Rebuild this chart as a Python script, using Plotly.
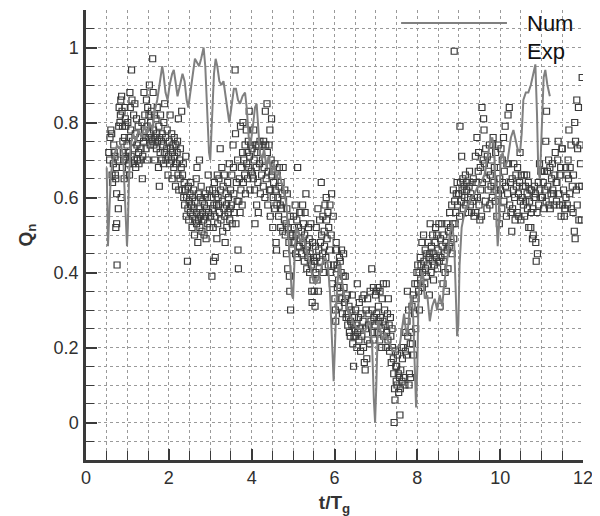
import plotly.graph_objects as go

# ---- Numerical result (Num) ----
num_t = [0.50, 0.51, 0.53, 0.56, 0.60, 0.65, 0.70, 0.75, 0.80, 0.85, 0.90, 0.94, 0.97, 0.99,
         1.01, 1.04, 1.08, 1.14, 1.20, 1.27, 1.34, 1.40, 1.47, 1.54, 1.60, 1.66, 1.72, 1.78,
         1.84, 1.87, 1.92, 1.97, 2.02, 2.08, 2.12, 2.16, 2.21, 2.27, 2.33, 2.38, 2.43, 2.47,
         2.52, 2.58, 2.63, 2.68, 2.73, 2.78, 2.84, 2.88, 2.93, 2.97, 3.00, 3.04, 3.09, 3.13,
         3.17, 3.22, 3.27, 3.32, 3.36, 3.41, 3.46, 3.51, 3.57, 3.62, 3.67, 3.72, 3.78, 3.84,
         3.88, 3.93, 3.97, 4.02, 4.08, 4.12, 4.16, 4.20, 4.25, 4.30, 4.36, 4.42, 4.48, 4.54,
         4.60, 4.66, 4.72, 4.78, 4.84, 4.89, 4.94, 4.97, 5.00, 5.03, 5.07, 5.12, 5.18, 5.24,
         5.30, 5.36, 5.42, 5.48, 5.54, 5.60, 5.66, 5.72, 5.78, 5.84, 5.89, 5.93, 5.96, 5.98,
         6.01, 6.06, 6.12, 6.18, 6.25, 6.32, 6.40, 6.48, 6.56, 6.64, 6.72, 6.80, 6.86, 6.91,
         6.95, 6.98, 7.01, 7.05, 7.10, 7.16, 7.22, 7.28, 7.34, 7.40, 7.46, 7.52, 7.58, 7.63,
         7.68, 7.72, 7.76, 7.81, 7.86, 7.90, 7.94, 7.97, 8.00, 8.03, 8.08, 8.13, 8.18, 8.24,
         8.30, 8.36, 8.42, 8.48, 8.54, 8.60, 8.66, 8.72, 8.78, 8.84, 8.89, 8.93, 8.96, 8.99,
         9.02, 9.07, 9.14, 9.22, 9.30, 9.38, 9.46, 9.54, 9.62, 9.70, 9.76, 9.81, 9.86, 9.91,
         9.94, 9.97, 10.01, 10.06, 10.12, 10.18, 10.26, 10.32, 10.37, 10.42, 10.48, 10.52,
         10.56, 10.62, 10.68, 10.74, 10.80, 10.85, 10.89, 10.92, 10.96, 11.00, 11.05, 11.09,
         11.14, 11.20]
num_q = [0.68, 0.58, 0.47, 0.55, 0.66, 0.70, 0.72, 0.74, 0.73, 0.74, 0.70, 0.60, 0.49, 0.47,
         0.52, 0.66, 0.74, 0.77, 0.75, 0.78, 0.76, 0.79, 0.77, 0.80, 0.78, 0.83, 0.86, 0.90,
         0.95, 0.93, 0.88, 0.86, 0.90, 0.93, 0.94, 0.91, 0.87, 0.90, 0.93, 0.91, 0.86, 0.84,
         0.88, 0.94, 0.97, 0.96, 0.95, 0.97, 1.00, 0.95, 0.82, 0.72, 0.70, 0.82, 0.93, 0.97,
         0.95, 0.91, 0.90, 0.91, 0.88, 0.83, 0.80, 0.84, 0.89, 0.89, 0.86, 0.85, 0.87, 0.88,
         0.84, 0.76, 0.74, 0.78, 0.84, 0.85, 0.78, 0.72, 0.70, 0.73, 0.68, 0.71, 0.66, 0.69,
         0.65, 0.67, 0.64, 0.62, 0.58, 0.50, 0.40, 0.34, 0.33, 0.42, 0.52, 0.51, 0.48, 0.50,
         0.47, 0.44, 0.42, 0.38, 0.37, 0.38, 0.40, 0.43, 0.44, 0.42, 0.35, 0.22, 0.12, 0.11,
         0.20, 0.36, 0.42, 0.38, 0.33, 0.30, 0.28, 0.26, 0.25, 0.25, 0.24, 0.26, 0.27, 0.20,
         0.06, 0.00, 0.10, 0.27, 0.25, 0.22, 0.24, 0.22, 0.21, 0.19, 0.19, 0.20, 0.21, 0.25,
         0.29, 0.25, 0.23, 0.30, 0.34, 0.28, 0.10, 0.04, 0.15, 0.34, 0.38, 0.40, 0.33, 0.34,
         0.27, 0.31, 0.33, 0.30, 0.34, 0.31, 0.38, 0.43, 0.50, 0.53, 0.48, 0.32, 0.23, 0.26,
         0.42, 0.52, 0.56, 0.58, 0.60, 0.61, 0.63, 0.64, 0.66, 0.71, 0.75, 0.76, 0.72, 0.55,
         0.47, 0.52, 0.70, 0.72, 0.68, 0.70, 0.76, 0.78, 0.75, 0.73, 0.72, 0.77,
         0.86, 0.88, 0.88, 0.90, 0.93, 0.955, 0.82, 0.67, 0.65, 0.78, 0.92, 0.94,
         0.90, 0.87]

exp_a = [  # t 0.5 - 3
    (0.55, 0.72), (0.57, 0.70), (0.58, 0.76), (0.60, 0.78), (0.62, 0.77), (0.63, 0.66), (0.64, 0.64),
    (0.66, 0.69), (0.67, 0.74), (0.68, 0.72), (0.70, 0.71), (0.71, 0.66), (0.72, 0.65), (0.73, 0.68),
    (0.74, 0.61), (0.75, 0.42), (0.72, 0.52), (0.74, 0.53), (0.78, 0.57), (0.77, 0.70), (0.79, 0.79),
    (0.80, 0.84), (0.82, 0.80), (0.83, 0.82), (0.84, 0.86), (0.86, 0.87), (0.87, 0.83), (0.88, 0.79),
    (0.89, 0.75), (0.90, 0.72), (0.91, 0.70), (0.93, 0.76), (0.94, 0.84), (0.95, 0.81), (0.96, 0.79),
    (0.97, 0.70), (0.98, 0.66), (0.99, 0.74), (0.85, 0.60), (0.88, 0.68), (0.92, 0.65), (0.96, 0.71),
    (1.01, 0.80), (1.02, 0.72), (1.03, 0.69), (1.04, 0.76), (1.05, 0.66), (1.06, 0.88), (1.07, 0.84),
    (1.08, 0.78), (1.09, 0.71), (1.10, 0.94), (1.11, 0.86), (1.12, 0.75), (1.13, 0.69), (1.15, 0.82),
    (1.16, 0.73), (1.17, 0.70), (1.18, 0.85), (1.19, 0.77), (1.20, 0.68), (1.22, 0.81), (1.23, 0.74),
    (1.24, 0.70), (1.26, 0.79), (1.27, 0.72), (1.28, 0.69), (1.30, 0.76), (1.31, 0.70), (1.33, 0.73),
    (1.35, 0.80), (1.36, 0.65), (1.37, 0.71), (1.39, 0.75), (1.40, 0.88), (1.41, 0.78), (1.42, 0.82),
    (1.44, 0.76), (1.45, 0.73), (1.46, 0.86), (1.47, 0.79), (1.48, 0.70), (1.49, 0.84),
    (1.50, 0.76), (1.52, 0.82), (1.53, 0.90), (1.54, 0.77), (1.55, 0.74), (1.56, 0.80), (1.57, 0.76),
    (1.58, 0.83), (1.60, 0.75), (1.61, 0.97), (1.62, 0.88), (1.63, 0.78), (1.64, 0.74), (1.65, 0.82),
    (1.66, 0.70), (1.67, 0.76), (1.69, 0.81), (1.70, 0.73), (1.71, 0.77), (1.72, 0.84), (1.73, 0.75),
    (1.75, 0.68), (1.76, 0.79), (1.77, 0.63), (1.78, 0.76), (1.79, 0.72), (1.80, 0.82), (1.82, 0.75),
    (1.83, 0.70), (1.84, 0.77), (1.86, 0.74), (1.87, 0.69), (1.88, 0.80), (1.89, 0.72), (1.90, 0.85),
    (1.92, 0.76), (1.93, 0.70), (1.95, 0.73), (1.96, 0.78), (1.98, 0.66), (1.99, 0.71),
    (2.01, 0.75), (2.02, 0.69), (2.03, 0.82), (2.04, 0.73), (2.06, 0.70), (2.07, 0.77), (2.08, 0.65),
    (2.09, 0.72), (2.10, 0.74), (2.12, 0.68), (2.13, 0.76), (2.14, 0.71), (2.16, 0.63), (2.17, 0.74),
    (2.18, 0.69), (2.20, 0.72), (2.21, 0.75), (2.22, 0.66), (2.23, 0.81), (2.24, 0.62), (2.26, 0.70),
    (2.27, 0.65), (2.28, 0.73), (2.30, 0.68), (2.31, 0.83), (2.32, 0.62), (2.33, 0.66), (2.35, 0.69),
    (2.36, 0.60), (2.37, 0.64), (2.38, 0.58), (2.40, 0.62), (2.41, 0.71), (2.42, 0.55), (2.43, 0.60),
    (2.45, 0.43), (2.46, 0.57), (2.47, 0.63), (2.48, 0.54), (2.49, 0.59),
    (2.51, 0.61), (2.52, 0.56), (2.53, 0.64), (2.55, 0.58), (2.56, 0.52), (2.57, 0.60), (2.58, 0.55),
    (2.60, 0.62), (2.61, 0.57), (2.62, 0.50), (2.63, 0.59), (2.65, 0.54), (2.66, 0.65), (2.67, 0.53),
    (2.68, 0.56), (2.70, 0.48), (2.71, 0.61), (2.72, 0.54), (2.73, 0.57), (2.75, 0.52), (2.76, 0.60),
    (2.77, 0.55), (2.78, 0.63), (2.80, 0.51), (2.81, 0.56), (2.82, 0.59), (2.84, 0.54), (2.85, 0.50),
    (2.86, 0.58), (2.88, 0.61), (2.89, 0.55), (2.90, 0.49), (2.91, 0.57), (2.93, 0.60), (2.94, 0.53),
    (2.95, 0.66), (2.96, 0.56), (2.98, 0.62), (2.99, 0.52), (2.74, 0.70), (2.68, 0.68),
]
exp_b = [  # t 3 - 6
    (3.01, 0.55), (3.02, 0.60), (3.04, 0.39), (3.05, 0.57), (3.06, 0.62), (3.07, 0.52), (3.08, 0.43),
    (3.09, 0.58), (3.10, 0.64), (3.11, 0.55), (3.12, 0.44), (3.13, 0.61), (3.15, 0.58), (3.16, 0.49),
    (3.17, 0.66), (3.18, 0.53), (3.19, 0.60), (3.20, 0.58), (3.21, 0.65), (3.22, 0.56), (3.24, 0.73),
    (3.25, 0.62), (3.26, 0.54), (3.28, 0.68), (3.29, 0.59), (3.30, 0.51), (3.31, 0.63), (3.33, 0.57),
    (3.34, 0.66), (3.35, 0.55), (3.36, 0.48), (3.38, 0.61), (3.39, 0.58), (3.40, 0.52), (3.42, 0.64),
    (3.43, 0.56), (3.44, 0.60), (3.46, 0.69), (3.47, 0.54), (3.48, 0.57), (3.49, 0.62),
    (3.51, 0.58), (3.52, 0.66), (3.53, 0.53), (3.55, 0.74), (3.56, 0.68), (3.57, 0.61), (3.58, 0.56),
    (3.60, 0.94), (3.61, 0.77), (3.62, 0.53), (3.63, 0.64), (3.65, 0.59), (3.66, 0.70), (3.67, 0.46),
    (3.68, 0.41), (3.69, 0.59), (3.70, 0.65), (3.72, 0.56), (3.73, 0.79), (3.74, 0.62), (3.75, 0.68),
    (3.77, 0.58), (3.78, 0.72), (3.79, 0.80), (3.80, 0.64), (3.81, 0.70), (3.83, 0.66), (3.84, 0.74),
    (3.85, 0.61), (3.87, 0.78), (3.88, 0.69), (3.89, 0.72), (3.90, 0.65), (3.92, 0.75), (3.93, 0.68),
    (3.94, 0.83), (3.95, 0.71), (3.96, 0.62), (3.98, 0.74), (3.99, 0.67),
    (4.01, 0.73), (4.02, 0.66), (4.04, 0.65), (4.05, 0.78), (4.06, 0.70), (4.07, 0.62), (4.08, 0.53),
    (4.10, 0.74), (4.11, 0.68), (4.12, 0.58), (4.13, 0.72), (4.15, 0.64), (4.16, 0.56), (4.17, 0.74),
    (4.19, 0.69), (4.20, 0.75), (4.21, 0.61), (4.22, 0.72), (4.24, 0.66), (4.25, 0.74), (4.26, 0.70),
    (4.28, 0.63), (4.29, 0.75), (4.30, 0.68), (4.32, 0.60), (4.33, 0.83), (4.34, 0.74), (4.35, 0.65),
    (4.37, 0.85), (4.38, 0.72), (4.39, 0.58), (4.40, 0.67), (4.42, 0.74), (4.43, 0.62), (4.44, 0.78),
    (4.46, 0.62), (4.47, 0.70), (4.48, 0.81), (4.49, 0.66), (4.45, 0.55),
    (4.50, 0.67), (4.51, 0.52), (4.52, 0.60), (4.53, 0.64), (4.55, 0.57), (4.56, 0.69), (4.57, 0.62),
    (4.59, 0.48), (4.60, 0.46), (4.61, 0.58), (4.62, 0.66), (4.63, 0.60), (4.65, 0.55), (4.66, 0.63),
    (4.67, 0.68), (4.69, 0.58), (4.70, 0.52), (4.71, 0.64), (4.72, 0.57), (4.74, 0.61), (4.75, 0.51),
    (4.76, 0.68), (4.77, 0.59), (4.79, 0.54), (4.80, 0.62), (4.81, 0.50), (4.83, 0.53), (4.84, 0.45),
    (4.85, 0.57), (4.86, 0.61), (4.87, 0.41), (4.88, 0.52), (4.90, 0.48), (4.91, 0.39), (4.92, 0.35),
    (4.93, 0.55), (4.94, 0.30), (4.95, 0.50), (4.97, 0.46), (4.99, 0.50),
    (5.01, 0.55), (5.02, 0.48), (5.03, 0.52), (5.05, 0.58), (5.06, 0.45), (5.07, 0.50), (5.09, 0.54),
    (5.10, 0.44), (5.11, 0.68), (5.12, 0.47), (5.13, 0.52), (5.15, 0.47), (5.16, 0.56), (5.17, 0.49),
    (5.19, 0.56), (5.20, 0.51), (5.21, 0.45), (5.23, 0.58), (5.24, 0.48), (5.25, 0.53), (5.27, 0.43),
    (5.28, 0.50), (5.29, 0.56), (5.31, 0.61), (5.32, 0.46), (5.33, 0.41), (5.35, 0.47), (5.36, 0.44),
    (5.37, 0.52), (5.39, 0.49), (5.40, 0.40), (5.41, 0.45), (5.43, 0.53), (5.44, 0.42), (5.45, 0.35),
    (5.46, 0.32), (5.47, 0.48), (5.48, 0.38), (5.49, 0.44),
    (5.50, 0.43), (5.51, 0.35), (5.52, 0.43), (5.53, 0.31), (5.54, 0.47), (5.55, 0.40), (5.56, 0.52),
    (5.57, 0.44), (5.58, 0.38), (5.60, 0.57), (5.61, 0.35), (5.62, 0.46), (5.63, 0.41), (5.64, 0.54),
    (5.66, 0.48), (5.67, 0.43), (5.68, 0.64), (5.69, 0.50), (5.71, 0.45), (5.72, 0.55), (5.73, 0.40),
    (5.75, 0.51), (5.76, 0.47), (5.77, 0.58), (5.79, 0.44), (5.80, 0.60), (5.81, 0.54), (5.82, 0.49),
    (5.84, 0.56), (5.85, 0.42), (5.86, 0.52), (5.88, 0.46), (5.89, 0.58), (5.90, 0.40), (5.92, 0.50),
    (5.93, 0.61), (5.95, 0.37), (5.97, 0.55), (5.98, 0.42),
]
exp_c = [  # t 6 - 9
    (6.01, 0.33), (6.02, 0.30), (6.03, 0.27), (6.04, 0.48), (6.05, 0.46), (6.06, 0.42), (6.07, 0.36),
    (6.08, 0.41), (6.10, 0.38), (6.11, 0.31), (6.12, 0.44), (6.13, 0.35), (6.14, 0.43), (6.16, 0.40),
    (6.17, 0.46), (6.18, 0.33), (6.19, 0.29), (6.21, 0.39), (6.22, 0.45), (6.23, 0.36), (6.24, 0.32),
    (6.26, 0.39), (6.27, 0.33), (6.28, 0.28), (6.30, 0.29), (6.31, 0.34), (6.32, 0.26), (6.34, 0.28),
    (6.35, 0.31), (6.36, 0.24), (6.38, 0.23), (6.39, 0.27), (6.40, 0.30), (6.42, 0.26), (6.43, 0.34),
    (6.44, 0.21), (6.46, 0.15), (6.47, 0.23), (6.48, 0.28), (6.49, 0.25),
    (6.50, 0.23), (6.51, 0.30), (6.52, 0.26), (6.54, 0.20), (6.55, 0.37), (6.56, 0.24), (6.58, 0.28),
    (6.59, 0.22), (6.60, 0.32), (6.62, 0.25), (6.63, 0.19), (6.64, 0.29), (6.66, 0.23), (6.67, 0.33),
    (6.69, 0.27), (6.70, 0.20), (6.71, 0.34), (6.72, 0.16), (6.74, 0.14), (6.75, 0.25), (6.76, 0.30),
    (6.78, 0.17), (6.79, 0.22), (6.80, 0.33), (6.82, 0.26), (6.83, 0.29), (6.85, 0.21), (6.86, 0.35),
    (6.88, 0.27), (6.90, 0.41), (6.91, 0.30), (6.92, 0.24), (6.94, 0.36), (6.95, 0.28), (6.96, 0.22),
    (6.98, 0.26), (6.99, 0.34),
    (7.01, 0.35), (7.02, 0.29), (7.03, 0.24), (7.05, 0.36), (7.06, 0.31), (7.07, 0.27), (7.09, 0.22),
    (7.10, 0.35), (7.11, 0.28), (7.13, 0.25), (7.14, 0.20), (7.15, 0.33), (7.17, 0.27), (7.18, 0.37),
    (7.19, 0.23), (7.21, 0.30), (7.22, 0.26), (7.24, 0.20), (7.25, 0.37), (7.26, 0.24), (7.28, 0.29),
    (7.29, 0.22), (7.30, 0.33), (7.32, 0.26), (7.33, 0.19), (7.35, 0.28), (7.36, 0.23), (7.37, 0.16),
    (7.39, 0.25), (7.40, 0.20), (7.42, 0.17), (7.43, 0.13), (7.44, 0.00), (7.45, 0.09), (7.46, 0.06),
    (7.47, 0.19), (7.48, 0.15), (7.49, 0.11),
    (7.50, 0.15), (7.51, 0.10), (7.52, 0.18), (7.54, 0.13), (7.55, 0.08), (7.57, 0.12), (7.58, 0.02),
    (7.59, 0.09), (7.60, 0.14), (7.62, 0.20), (7.63, 0.11), (7.64, 0.17), (7.66, 0.20), (7.67, 0.12),
    (7.68, 0.24), (7.70, 0.10), (7.71, 0.19), (7.72, 0.24), (7.74, 0.18), (7.75, 0.27), (7.76, 0.35),
    (7.77, 0.23), (7.79, 0.30), (7.80, 0.10), (7.81, 0.13), (7.83, 0.21), (7.84, 0.12), (7.86, 0.24),
    (7.87, 0.31), (7.88, 0.21), (7.90, 0.34), (7.91, 0.18), (7.93, 0.29), (7.94, 0.37), (7.96, 0.25),
    (7.97, 0.33), (7.99, 0.40),
    (8.00, 0.37), (8.01, 0.42), (8.03, 0.35), (8.04, 0.40), (8.05, 0.30), (8.07, 0.44), (8.08, 0.38),
    (8.09, 0.42), (8.11, 0.48), (8.12, 0.36), (8.13, 0.40), (8.15, 0.50), (8.16, 0.43), (8.18, 0.37),
    (8.19, 0.46), (8.20, 0.41), (8.22, 0.39), (8.23, 0.45), (8.25, 0.42), (8.26, 0.48), (8.28, 0.44),
    (8.29, 0.34), (8.30, 0.45), (8.31, 0.53), (8.33, 0.40), (8.34, 0.47), (8.36, 0.43), (8.37, 0.50),
    (8.39, 0.38), (8.40, 0.45), (8.41, 0.42), (8.43, 0.48), (8.44, 0.52), (8.46, 0.44), (8.47, 0.50),
    (8.49, 0.41),
    (8.50, 0.46), (8.52, 0.53), (8.53, 0.43), (8.55, 0.31), (8.56, 0.49), (8.57, 0.44), (8.59, 0.53),
    (8.60, 0.47), (8.62, 0.37), (8.63, 0.43), (8.64, 0.50), (8.66, 0.45), (8.67, 0.40), (8.69, 0.48),
    (8.70, 0.35), (8.71, 0.53), (8.72, 0.46), (8.74, 0.41), (8.75, 0.51), (8.77, 0.47), (8.78, 0.56),
    (8.80, 0.52), (8.81, 0.48), (8.83, 0.58), (8.84, 0.45), (8.86, 0.53), (8.87, 0.62), (8.88, 0.49),
    (8.89, 0.99), (8.90, 0.59), (8.91, 0.53), (8.93, 0.56), (8.94, 0.61), (8.96, 0.64), (8.97, 0.58),
    (8.99, 0.61),
]
exp_d = [  # t 9 - 12
    (9.00, 0.61), (9.02, 0.55), (9.03, 0.79), (9.04, 0.64), (9.06, 0.59), (9.07, 0.71), (9.08, 0.62),
    (9.10, 0.65), (9.11, 0.57), (9.13, 0.63), (9.14, 0.60), (9.16, 0.66), (9.17, 0.58), (9.19, 0.62),
    (9.20, 0.64), (9.22, 0.60), (9.23, 0.56), (9.25, 0.63), (9.26, 0.67), (9.28, 0.58), (9.29, 0.61),
    (9.31, 0.56), (9.32, 0.64), (9.34, 0.59), (9.35, 0.65), (9.37, 0.55), (9.38, 0.60), (9.40, 0.71),
    (9.41, 0.56), (9.42, 0.64), (9.44, 0.76), (9.45, 0.60), (9.47, 0.67), (9.48, 0.72), (9.49, 0.58),
    (9.51, 0.54), (9.52, 0.68), (9.53, 0.62), (9.55, 0.55), (9.56, 0.84), (9.57, 0.64), (9.59, 0.70),
    (9.60, 0.81), (9.61, 0.78), (9.62, 0.69), (9.64, 0.59), (9.65, 0.73), (9.67, 0.65), (9.68, 0.57),
    (9.69, 0.71), (9.71, 0.62), (9.72, 0.67), (9.74, 0.74), (9.75, 0.58), (9.76, 0.66), (9.78, 0.63),
    (9.79, 0.70), (9.81, 0.60), (9.82, 0.74), (9.83, 0.76), (9.85, 0.64), (9.86, 0.68), (9.88, 0.59),
    (9.89, 0.72), (9.90, 0.62), (9.92, 0.55), (9.93, 0.68), (9.95, 0.74), (9.96, 0.61), (9.98, 0.53),
    (9.99, 0.65),
    (10.01, 0.62), (10.02, 0.73), (10.04, 0.57), (10.05, 0.70), (10.06, 0.64), (10.08, 0.76),
    (10.09, 0.59), (10.10, 0.67), (10.12, 0.79), (10.13, 0.63), (10.15, 0.55), (10.16, 0.69),
    (10.18, 0.61), (10.19, 0.82), (10.20, 0.69), (10.22, 0.84), (10.23, 0.58), (10.25, 0.64),
    (10.26, 0.56), (10.28, 0.51), (10.29, 0.65), (10.30, 0.57), (10.32, 0.62), (10.33, 0.69),
    (10.35, 0.60), (10.36, 0.54), (10.38, 0.66), (10.39, 0.63), (10.41, 0.56), (10.42, 0.68),
    (10.44, 0.61), (10.45, 0.55), (10.47, 0.64), (10.48, 0.72), (10.49, 0.59),
    (10.50, 0.54), (10.51, 0.66), (10.53, 0.60), (10.55, 0.63), (10.56, 0.58), (10.58, 0.66),
    (10.59, 0.55), (10.61, 0.63), (10.62, 0.59), (10.64, 0.66), (10.65, 0.61), (10.66, 0.57),
    (10.68, 0.64), (10.69, 0.52), (10.71, 0.59), (10.72, 0.62), (10.74, 0.52), (10.75, 0.56),
    (10.76, 0.62), (10.78, 0.49), (10.79, 0.57), (10.80, 0.50), (10.82, 0.60), (10.83, 0.63),
    (10.85, 0.61), (10.86, 0.48), (10.87, 0.43), (10.89, 0.56), (10.90, 0.45), (10.92, 0.64),
    (10.93, 0.58), (10.95, 0.69), (10.96, 0.62), (10.98, 0.67), (10.99, 0.60),
    (11.01, 0.67), (11.02, 0.60), (11.04, 0.64), (11.05, 0.57), (11.07, 0.67), (11.08, 0.62),
    (11.10, 0.75), (11.11, 0.59), (11.12, 0.83), (11.14, 0.67), (11.15, 0.63), (11.17, 0.70),
    (11.18, 0.58), (11.20, 0.68), (11.21, 0.57), (11.23, 0.61), (11.24, 0.65), (11.26, 0.69),
    (11.27, 0.62), (11.29, 0.61), (11.30, 0.58), (11.32, 0.66), (11.33, 0.72), (11.35, 0.64),
    (11.36, 0.59), (11.37, 0.64), (11.39, 0.70), (11.40, 0.75), (11.41, 0.61), (11.43, 0.58),
    (11.44, 0.66), (11.46, 0.68), (11.47, 0.55), (11.49, 0.73),
    (11.50, 0.73), (11.51, 0.58), (11.53, 0.62), (11.55, 0.55), (11.56, 0.57), (11.58, 0.68),
    (11.59, 0.60), (11.61, 0.66), (11.62, 0.58), (11.64, 0.70), (11.65, 0.65), (11.66, 0.78),
    (11.68, 0.61), (11.69, 0.68), (11.71, 0.74), (11.72, 0.57), (11.74, 0.63), (11.76, 0.56),
    (11.77, 0.66), (11.79, 0.51), (11.80, 0.80), (11.81, 0.49), (11.82, 0.75), (11.84, 0.62),
    (11.85, 0.86), (11.86, 0.58), (11.87, 0.73), (11.89, 0.84), (11.90, 0.54), (11.91, 0.63),
    (11.93, 0.74), (11.94, 0.69), (11.96, 0.54), (11.97, 0.63), (11.98, 0.92),
]

x_ticks = [0, 2, 4, 6, 8, 10, 12]
y_ticks = [0, 0.2, 0.4, 0.6, 0.8, 1]
x_title = "<b>t/T<sub>g</sub></b>"
y_title = "<b>Q<sub>n</sub></b>"
legend_names = ["Num", "Exp"]

exp_all = exp_a + exp_b + exp_c + exp_d
exp_t = [p[0] for p in exp_all]
exp_q = [p[1] for p in exp_all]

FONT = "Liberation Sans, Arial, sans-serif"
AX = "#3a3a3a"
GRID = "#9a9a9a"

fig = go.Figure()
fig.add_trace(go.Scatter(
    x=exp_t, y=exp_q, mode="markers", name=legend_names[1],
    marker=dict(symbol="square-open", size=6, color="#3a3a3a", line=dict(width=1.2, color="#3a3a3a")),
    showlegend=False,
))
fig.add_trace(go.Scatter(
    x=num_t, y=num_q, mode="lines", name=legend_names[0],
    line=dict(color="#808080", width=2),
    showlegend=False,
))

axis_common = dict(
    showgrid=True, gridcolor=GRID, griddash="dot", gridwidth=1,
    showline=True, linecolor=AX, linewidth=2.5,
    ticks="inside", tickcolor=AX, tickwidth=2, ticklen=11,
    tickfont=dict(family=FONT, size=18, color="#303030"),
    zeroline=False, mirror=False, automargin=False,
    ticklabeloverflow="allow",
)
fig.update_xaxes(
    range=[0, 12], tickvals=x_ticks, ticktext=[str(v) for v in x_ticks],
    minor=dict(dtick=0.5, tick0=0, ticks="inside", ticklen=9, tickcolor=AX, tickwidth=1.2,
               showgrid=True, gridcolor=GRID, griddash="dot", gridwidth=1),
    title=dict(text=x_title, font=dict(family=FONT, size=19, color="#333333"), standoff=21),
    ticklabelstandoff=0,
    **axis_common,
)
fig.update_yaxes(
    range=[-0.1, 1.1], tickvals=y_ticks, ticktext=["0", "0.2", "0.4", "0.6", "0.8", "1"],
    minor=dict(dtick=0.05, tick0=0, ticks="inside", ticklen=8, tickcolor=AX, tickwidth=1.2,
               showgrid=True, gridcolor=GRID, griddash="dot", gridwidth=1),
    title=dict(text=y_title, font=dict(family=FONT, size=19, color="#333333"), standoff=16),
    ticklabelstandoff=1,
    **axis_common,
)

# legend drawn manually (long line sample like the original)
fig.add_shape(type="line", xref="paper", yref="paper", x0=0.634, x1=0.847, y0=0.971, y1=0.971,
              line=dict(color="#808080", width=2))
fig.add_annotation(xref="paper", yref="paper", x=0.883, y=0.971, text=legend_names[0],
                   showarrow=False, xanchor="left", yanchor="middle",
                   font=dict(family=FONT, size=22, color="#111111"))
fig.add_annotation(xref="paper", yref="paper", x=0.883, y=0.907, text=legend_names[1],
                   showarrow=False, xanchor="left", yanchor="middle",
                   font=dict(family=FONT, size=22, color="#111111"))

# page body has an 8px margin: offset the figure so the plot lands where the original's is
fig.update_layout(
    width=584, height=508,
    margin=dict(l=78, r=9, t=2, b=56),
    paper_bgcolor="white", plot_bgcolor="white",
    showlegend=False,
)

fig.write_html("out.html")
